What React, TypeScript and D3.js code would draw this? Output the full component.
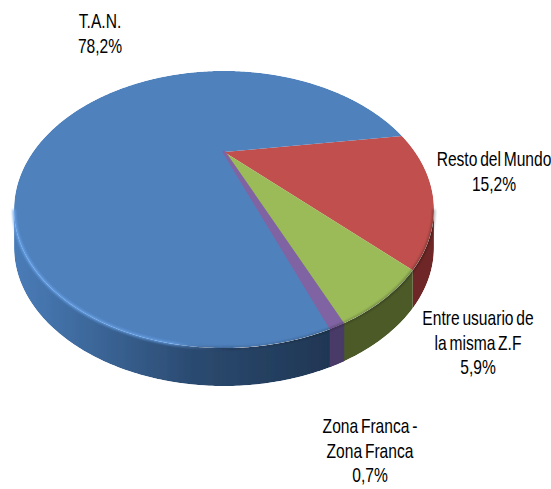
import React from "react";
import * as d3 from "d3";

const categories = ["T.A.N.", "Resto del Mundo", "Entre usuario de la misma Z.F", "Zona Franca - Zona Franca"];
const values = [78.2, 15.2, 5.9, 0.7];
const colors = ["#4f81bd", "#c0504d", "#9bbb59", "#8064a2"];
const wallColors = ["url(#wallBlue)", "#6e2725", "#4b5a27", "#4a3a68"];
const labelLines = [["T.A.N.", "78,2%"], ["Resto del Mundo", "15,2%"], ["Entre usuario de", "la misma Z.F", "5,9%"], ["Zona Franca -", "Zona Franca", "0,7%"]];
const labelPos = [[100, 28], [494, 166], [478, 325], [370, 433]];
const labelStep = 24.5;

const apexX = 224, apexY = 152;
const K = 0.415, A = 191, B = 114.7;
const depth = 38;
const startDeg = 81.5;

const project = (a: number, dy = 0, r = 1): [number, number] => {
  const u = r * Math.sin(a), v = r * Math.cos(a);
  const w = 1 + K * v;
  return [apexX + (A * u) / w, apexY - (B * v) / w + dy];
};
const line = d3.line<[number, number]>().x(d => d[0]).y(d => d[1]);
const sample = (a0: number, a1: number, dy = 0, r = 1) => {
  const n = Math.max(2, Math.ceil(Math.abs(a1 - a0) / 0.01));
  return d3.range(n + 1).map(i => project(a0 + ((a1 - a0) * i) / n, dy, r));
};

export default function App() {
  const order = [1, 2, 3, 0];
  const start = (startDeg * Math.PI) / 180;
  const arcs = d3.pie<number>().sort(null).value(d => d).startAngle(start).endAngle(start + 2 * Math.PI)(order.map(i => values[i]));
  const leftTan = d3.range(180, 360, 0.25).map(d => (d * Math.PI) / 180).reduce((b, a) => (project(a)[0] < project(b)[0] ? a : b));
  const rightTan = d3.range(0, 180, 0.25).map(d => (d * Math.PI) / 180).reduce((b, a) => (project(a)[0] > project(b)[0] ? a : b));
  const wall = (a0: number, a1: number) => {
    const res: string[] = [];
    [0, 2 * Math.PI].forEach(off => {
      const s = Math.max(a0, rightTan + off), e = Math.min(a1, leftTan + off);
      if (e > s) res.push((line([...sample(s, e), ...sample(e, s, depth)]) as string) + "Z");
    });
    return res;
  };
  const rim = line(sample(rightTan, leftTan)) as string;
  const x0 = project(leftTan)[0], x1 = project(rightTan)[0];
  const silhouette = (line([...sample(rightTan, leftTan), ...sample(leftTan, rightTan, depth)]) as string) + "Z";
  const face = (line(sample(0, 2 * Math.PI)) as string) + "Z";
  // purple sliver is drawn with a matching outline, as in the reference, so it stays visible
  const outline = (k: number) => (k === 3 ? { stroke: colors[3], strokeWidth: 3, strokeLinejoin: "round" as const } : {});
  const wallOutline = (k: number) => (k === 3 ? { stroke: "#4a3a68", strokeWidth: 3 } : {});
  const drawOrder = d3.range(arcs.length).sort((a, b) => Number(order[a] === 3) - Number(order[b] === 3));
  return (
    <svg width={551} height={489} style={{ position: "absolute", left: 0, top: 0, background: "#fff" }} fontFamily="'Liberation Sans', Arial, sans-serif">
      <defs>
        <linearGradient id="wallBlue" gradientUnits="userSpaceOnUse" x1={x0} x2={340} y1="0" y2="0">
          <stop offset="0" stopColor="#4a7cb8" />
          <stop offset="0.25" stopColor="#3b6698" />
          <stop offset="0.55" stopColor="#2b4a70" />
          <stop offset="1" stopColor="#1e3551" />
        </linearGradient>
        <linearGradient id="rimGrad" gradientUnits="userSpaceOnUse" x1={x0} x2={x1} y1="0" y2="0">
          <stop offset="0" stopColor="#6aa5ec" stopOpacity="0.9" />
          <stop offset="0.38" stopColor="#6aa5ec" stopOpacity="0.75" />
          <stop offset="0.55" stopColor="#000" stopOpacity="0.12" />
          <stop offset="0.8" stopColor="#000" stopOpacity="0.22" />
          <stop offset="1" stopColor="#000" stopOpacity="0.3" />
        </linearGradient>
        <filter id="blur" x="-10%" y="-10%" width="120%" height="120%">
          <feGaussianBlur stdDeviation="1.3" />
        </filter>
        <filter id="soft" x="-5%" y="-5%" width="110%" height="110%">
          <feGaussianBlur stdDeviation="0.5" />
        </filter>
        <clipPath id="wallClip"><path d={silhouette} /></clipPath>
        <clipPath id="faceClip"><path d={face} /></clipPath>
      </defs>
      <g filter="url(#soft)">
        <g clipPath="url(#wallClip)">
          {drawOrder.map(i =>
            wall(arcs[i].startAngle, arcs[i].endAngle).map((d, j) => <path key={`w${i}-${j}`} d={d} fill={wallColors[order[i]]} {...wallOutline(order[i])} />)
          )}
        </g>
        <g clipPath="url(#faceClip)">
          {drawOrder.map(i => (
            <path key={`t${i}`} d={(line([[apexX, apexY], ...sample(arcs[i].startAngle, arcs[i].endAngle)]) as string) + "Z"} fill={colors[order[i]]} {...outline(order[i])} />
          ))}
        </g>
        <path d={rim} fill="none" stroke="url(#rimGrad)" strokeWidth={3} filter="url(#blur)" />
      </g>
      {labelLines.map((lines, i) =>
        lines.map((l, j) => (
          <text key={`${categories[i]}-${j}`} transform={`translate(${labelPos[i][0]},${labelPos[i][1] + j * labelStep}) scale(0.78,1)`} textAnchor="middle" fontSize={20} fill="#000" style={{ wordSpacing: "-2px" }}>
            {l}
          </text>
        ))
      )}
    </svg>
  );
}
